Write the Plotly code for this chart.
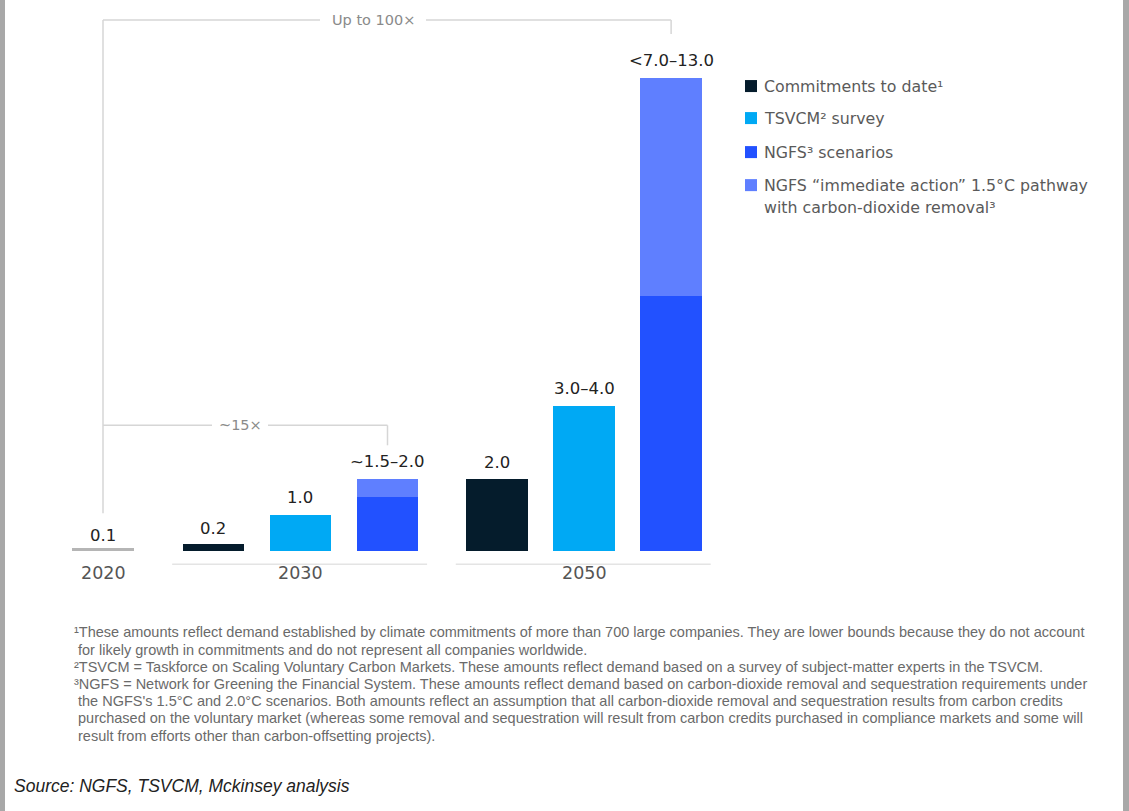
import plotly.graph_objects as go

# ---------------- data ----------------
years = ["2020", "2030", "2050"]
baseline_2020 = [0.1]
commitments = [0.2, 2.0]          # 2030, 2050
tsvcm_low = [1.0, 3.0]
tsvcm_high = [1.0, 4.0]
ngfs_low = [1.5, 7.0]
ngfs_high = [2.0, 13.0]
bar_labels_2020 = ["0.1"]
bar_labels_commit = ["0.2", "2.0"]
bar_labels_tsvcm = ["1.0", "3.0–4.0"]
bar_labels_ngfs = ["~1.5–2.0", "<7.0–13.0"]
legend_names = ["Commitments to date¹", "TSVCM² survey", "NGFS³ scenarios",
                "NGFS “immediate action” 1.5°C pathway", "with carbon-dioxide removal³"]
bracket_texts = ["Up to 100×", "~15×"]
footnotes = [
    "¹These amounts reflect demand established by climate commitments of more than 700 large companies. They are lower bounds because they do not account",
    " for likely growth in commitments and do not represent all companies worldwide.",
    "²TSVCM = Taskforce on Scaling Voluntary Carbon Markets. These amounts reflect demand based on a survey of subject-matter experts in the TSVCM.",
    "³NGFS = Network for Greening the Financial System. These amounts reflect demand based on carbon-dioxide removal and sequestration requirements under",
    " the NGFS's 1.5°C and 2.0°C scenarios. Both amounts reflect an assumption that all carbon-dioxide removal and sequestration results from carbon credits",
    " purchased on the voluntary market (whereas some removal and sequestration will result from carbon credits purchased in compliance markets and some will",
    " result from efforts other than carbon-offsetting projects).",
]
source_text = "Source: NGFS, TSVCM, Mckinsey analysis"

# ---------------- layout constants ----------------
W, H = 1129, 811
ML, MT = 16, 5
PW = 696
PH = 600.6
MR = W - ML - PW
MB = H - MT - PH
X2020 = [0.0]
X2030 = [1.27, 2.27, 3.27]
X2050 = [4.53, 5.53, 6.53]
BW = 0.71

C_DARK = "#051c2c"
C_CYAN = "#00a9f4"
C_BLUE = "#2251ff"
C_LIGHT = "#5f7fff"
C_GRAY = "#b5b5b5"
C_BRK = "#d6d6d6"
FONT = "Liberation Sans, Arial, sans-serif"
WIDE = "DejaVu Sans, Verdana, sans-serif"


def xp(px):
    return (px - ML) / PW


def yp(py):
    return (MT + PH - py) / PH


def ydata(py):
    return (551 - py) / 36.4


fig = go.Figure()
fig.add_bar(x=X2020, y=baseline_2020, width=BW, marker=dict(color=C_GRAY, line_width=0),
            showlegend=False, hoverinfo="skip")
fig.add_bar(x=[X2030[0], X2050[0]], y=commitments, width=BW, marker=dict(color=C_DARK, line_width=0),
            name=legend_names[0])
fig.add_bar(x=[X2030[1], X2050[1]], y=tsvcm_low, width=BW, marker=dict(color=C_CYAN, line_width=0),
            name=legend_names[1])
fig.add_bar(x=[X2030[1], X2050[1]], y=[h - l for h, l in zip(tsvcm_high, tsvcm_low)], width=BW,
            marker=dict(color=C_CYAN, line_width=0), name=legend_names[1])
fig.add_bar(x=[X2030[2], X2050[2]], y=ngfs_low, width=BW, marker=dict(color=C_BLUE, line_width=0),
            name=legend_names[2])
fig.add_bar(x=[X2030[2], X2050[2]], y=[h - l for h, l in zip(ngfs_high, ngfs_low)], width=BW,
            marker=dict(color=C_LIGHT, line_width=0), name=legend_names[3])

ann = []
# bar value labels
lab = []
for x, v, t in zip(X2020, baseline_2020, bar_labels_2020):
    lab.append(dict(x=x, y=v, text=t, yshift=12))
for x, v, t in zip([X2030[0], X2050[0]], commitments, bar_labels_commit):
    lab.append(dict(x=x, y=v, text=t, yshift=16))
for x, v, t in zip([X2030[1], X2050[1]], tsvcm_high, bar_labels_tsvcm):
    lab.append(dict(x=x, y=v, text=t, yshift=17))
for x, v, t in zip([X2030[2], X2050[2]], ngfs_high, bar_labels_ngfs):
    lab.append(dict(x=x, y=v, text=t, yshift=17))
for a in lab:
    a.update(xref="x", yref="y", showarrow=False, yanchor="middle",
             font=dict(family=WIDE, size=16.5, color="#222222"))
ann += lab

# year labels
year_x = [X2020[0], X2030[1], X2050[1]]
for x, t in zip(year_x, years):
    ann.append(dict(x=x, y=yp(585), xref="x", yref="paper", text=t, showarrow=False,
                    font=dict(family=WIDE, size=17.5, color="#555555")))

shapes = []
# group baselines
for grp in (X2030, X2050):
    shapes.append(dict(type="line", xref="x", yref="paper",
                       x0=grp[0] - BW / 2 - 0.12, x1=grp[-1] + BW / 2 + 0.1,
                       y0=yp(564), y1=yp(564), line=dict(color="#e4e4e4", width=1.5)))

# Up to 100x bracket
xl, xr = X2020[0], X2050[2]
ytop = ydata(20)
shapes += [
    dict(type="line", xref="x", yref="y", x0=xl, x1=xl, y0=ydata(513), y1=ytop),
    dict(type="line", xref="x", yref="y", x0=xl, x1=(320 - 103) / 87, y0=ytop, y1=ytop),
    dict(type="line", xref="x", yref="y", x0=(426 - 103) / 87, x1=xr, y0=ytop, y1=ytop),
    dict(type="line", xref="x", yref="y", x0=xr, x1=xr, y0=ytop, y1=ydata(34)),
]
ann.append(dict(x=(373 - 103) / 87, y=ytop, xref="x", yref="y", text=bracket_texts[0],
                showarrow=False, font=dict(family=WIDE, size=14.5, color="#8a8a8a")))
# ~15x bracket
xr2 = X2030[2]
y15 = ydata(425)
shapes += [
    dict(type="line", xref="x", yref="y", x0=xl, x1=(212 - 103) / 87, y0=y15, y1=y15),
    dict(type="line", xref="x", yref="y", x0=(268 - 103) / 87, x1=xr2, y0=y15, y1=y15),
    dict(type="line", xref="x", yref="y", x0=xr2, x1=xr2, y0=y15, y1=ydata(445)),
]
ann.append(dict(x=(240 - 103) / 87, y=y15, xref="x", yref="y", text=bracket_texts[1],
                showarrow=False, font=dict(family=WIDE, size=14.5, color="#8a8a8a")))
for s in shapes:
    if "line" not in s:
        s["line"] = dict(color=C_BRK, width=1.5)

# legend (manual)
leg_colors = [C_DARK, C_CYAN, C_BLUE, C_LIGHT]
leg_y = [86, 118, 152, 185]
for c, y in zip(leg_colors, leg_y):
    shapes.append(dict(type="rect", xref="paper", yref="paper", x0=xp(745), x1=xp(757),
                       y0=yp(y + 6), y1=yp(y - 6), fillcolor=c, line_width=0))
for t, y in zip(legend_names, leg_y + [207]):
    ann.append(dict(x=xp(762), y=yp(y), xref="paper", yref="paper", text=t, showarrow=False,
                    xanchor="left", yanchor="middle",
                    font=dict(family=WIDE, size=15.8, color="#5a5a5a")))

# footnotes
for i, t in enumerate(footnotes):
    ann.append(dict(x=xp(72), y=yp(632 + i * 17.2), xref="paper", yref="paper", text=t,
                    showarrow=False, xanchor="left", yanchor="middle",
                    font=dict(family=FONT, size=14.5, color="#6a6a6a")))
# source
ann.append(dict(x=xp(12), y=yp(785), xref="paper", yref="paper", text="<i>" + source_text + "</i>",
                showarrow=False, xanchor="left", yanchor="middle",
                font=dict(family=FONT, size=17.5, color="#222222")))

# gray side borders
shapes.append(dict(type="rect", xref="paper", yref="paper", x0=xp(-5), x1=xp(5), y0=yp(H + 10), y1=yp(-10),
                   fillcolor="#a8a8a8", line_width=0, layer="above"))
shapes.append(dict(type="rect", xref="paper", yref="paper", x0=xp(1123), x1=xp(W + 10), y0=yp(H + 10), y1=yp(-10),
                   fillcolor="#a8a8a8", line_width=0, layer="above"))

fig.update_layout(
    width=W, height=H, autosize=False,
    margin=dict(l=ML, r=MR, t=MT, b=MB, pad=0),
    barmode="stack", bargap=0,
    paper_bgcolor="white", plot_bgcolor="white",
    xaxis=dict(range=[-1, 7], visible=False, fixedrange=True),
    yaxis=dict(range=[-1.5, 15], visible=False, fixedrange=True),
    shapes=shapes, annotations=ann, showlegend=False,
)
fig.write_html("out.html", config={"displayModeBar": False},
               post_script="document.body.style.margin='0px';document.body.style.overflow='hidden';")
